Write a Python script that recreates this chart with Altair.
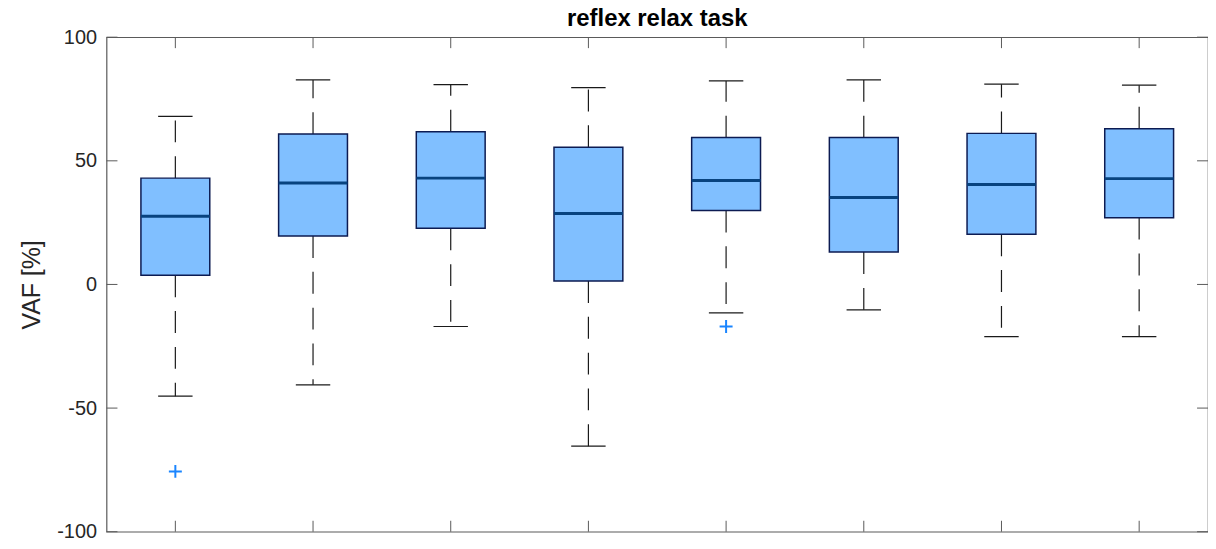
import altair as alt
import pandas as pd

# ---- data ----
groups = [1, 2, 3, 4, 5, 6, 7, 8]
whisker_low = [-45.2, -40.6, -17.0, -65.4, -11.5, -10.3, -21.1, -21.1]
q1 = [3.7, 19.6, 22.7, 1.4, 29.9, 13.1, 20.3, 27.0]
median = [27.6, 41.0, 43.0, 28.7, 42.0, 35.2, 40.4, 42.8]
q3 = [43.0, 60.8, 61.8, 55.5, 59.4, 59.4, 61.1, 63.0]
whisker_high = [68.0, 82.7, 80.8, 79.6, 82.3, 82.7, 81.0, 80.6]
outlier_group = [1, 5]
outlier_value = [-75.6, -17.0]
y_ticks = [-100, -50, 0, 50, 100]

W, H = 1107, 497
X0, X1 = 0.5, 8.5
Y0, Y1 = -100, 100
TICK_PX = 11
BOX_HALF = 0.25
CAP_HALF = 0.125
tx = TICK_PX * (X1 - X0) / W   # tick length in x data units
ty = TICK_PX * (Y1 - Y0) / H   # tick length in y data units

df = pd.DataFrame({
    "g": groups, "lo": whisker_low, "q1": q1, "med": median,
    "q3": q3, "hi": whisker_high,
})
df["bl"] = df["g"] - BOX_HALF
df["br"] = df["g"] + BOX_HALF
df["cl"] = df["g"] - CAP_HALF
df["cr"] = df["g"] + CAP_HALF
df["t_top0"] = Y1
df["t_top1"] = Y1 - ty
df["t_bot0"] = Y0
df["t_bot1"] = Y0 + ty

df_out = pd.DataFrame({"g": outlier_group, "v": outlier_value})
df_yt = pd.DataFrame({"v": y_ticks})
df_yt["l0"] = X0
df_yt["l1"] = X0 + tx
df_yt["r0"] = X1 - tx
df_yt["r1"] = X1

xs = alt.Scale(domain=[X0, X1], nice=False, zero=False)
ys = alt.Scale(domain=[Y0, Y1], nice=False, zero=False)

yaxis = alt.Axis(
    values=y_ticks, ticks=False, domain=False, grid=False,
    labelExpr="'' + datum.value",
    labelFont="Liberation Sans", labelFontSize=20, labelColor="#262626",
    labelPadding=10,
    title="VAF [%]", titleFont="Liberation Sans", titleFontSize=25,
    titleFontWeight="normal", titleColor="#262626",
    titleX=-75, titleY=H / 2, titleAngle=-90, titleAlign="center",
    titleBaseline="middle",
)

dash = [22, 14]
wcol = "#1a1a1a"
tick_col = "#5a5a5a"

base = alt.Chart(df)

upper_whisker = base.mark_rule(color=wcol, strokeWidth=1.2, strokeDash=dash).encode(
    x=alt.X("g:Q", scale=xs, axis=None),
    y=alt.Y("q3:Q", scale=ys, axis=yaxis),
    y2="hi:Q",
)
lower_whisker = base.mark_rule(color=wcol, strokeWidth=1.2, strokeDash=dash).encode(
    x=alt.X("g:Q", scale=xs, axis=None),
    y=alt.Y("q1:Q", scale=ys, axis=yaxis),
    y2="lo:Q",
)
cap_hi = base.mark_rule(color=wcol, strokeWidth=1.2).encode(
    x=alt.X("cl:Q", scale=xs, axis=None), x2="cr:Q",
    y=alt.Y("hi:Q", scale=ys, axis=yaxis),
)
cap_lo = base.mark_rule(color=wcol, strokeWidth=1.2).encode(
    x=alt.X("cl:Q", scale=xs, axis=None), x2="cr:Q",
    y=alt.Y("lo:Q", scale=ys, axis=yaxis),
)
boxes = base.mark_rect(fill="#80BFFF", stroke="#0c1b52", strokeWidth=1.5).encode(
    x=alt.X("bl:Q", scale=xs, axis=None), x2="br:Q",
    y=alt.Y("q1:Q", scale=ys, axis=yaxis), y2="q3:Q",
)
medians = base.mark_rule(color="#08437f", strokeWidth=3).encode(
    x=alt.X("bl:Q", scale=xs, axis=None), x2="br:Q",
    y=alt.Y("med:Q", scale=ys, axis=yaxis),
)
outliers = alt.Chart(df_out).mark_point(
    shape="M-1,0L1,0M0,-1L0,1", filled=False, stroke="#1a85ff",
    strokeWidth=2, size=170, opacity=1,
).encode(
    x=alt.X("g:Q", scale=xs, axis=None),
    y=alt.Y("v:Q", scale=ys, axis=yaxis),
)

# inward tick marks (MATLAB style box)
yt_left = alt.Chart(df_yt).mark_rule(color=tick_col, strokeWidth=1).encode(
    y=alt.Y("v:Q", scale=ys, axis=yaxis),
    x=alt.X("l0:Q", scale=xs, axis=None), x2="l1:Q",
)
yt_right = alt.Chart(df_yt).mark_rule(color=tick_col, strokeWidth=1).encode(
    y=alt.Y("v:Q", scale=ys, axis=yaxis),
    x=alt.X("r0:Q", scale=xs, axis=None), x2="r1:Q",
)
xt_top = base.mark_rule(color=tick_col, strokeWidth=1).encode(
    x=alt.X("g:Q", scale=xs, axis=None),
    y=alt.Y("t_top0:Q", scale=ys, axis=yaxis), y2="t_top1:Q",
)
xt_bot = base.mark_rule(color=tick_col, strokeWidth=1).encode(
    x=alt.X("g:Q", scale=xs, axis=None),
    y=alt.Y("t_bot0:Q", scale=ys, axis=yaxis), y2="t_bot1:Q",
)

chart = alt.layer(
    upper_whisker, lower_whisker, cap_hi, cap_lo, boxes, medians, outliers,
    yt_left, yt_right, xt_top, xt_bot,
).properties(
    width=W, height=H,
    title=alt.TitleParams(
        text="reflex relax task", font="Liberation Sans", fontSize=24,
        fontWeight="bold", color="#000000", anchor="middle", offset=0, dy=4,
    ),
    autosize=alt.AutoSizeParams(type="none"),
    padding={"left": 99, "top": 28, "right": 0, "bottom": 8},
).configure(
    background="white"
).configure_view(
    stroke=tick_col, strokeWidth=1.2
)

chart.save("out.html", embed_options={"renderer": "svg", "actions": False})
